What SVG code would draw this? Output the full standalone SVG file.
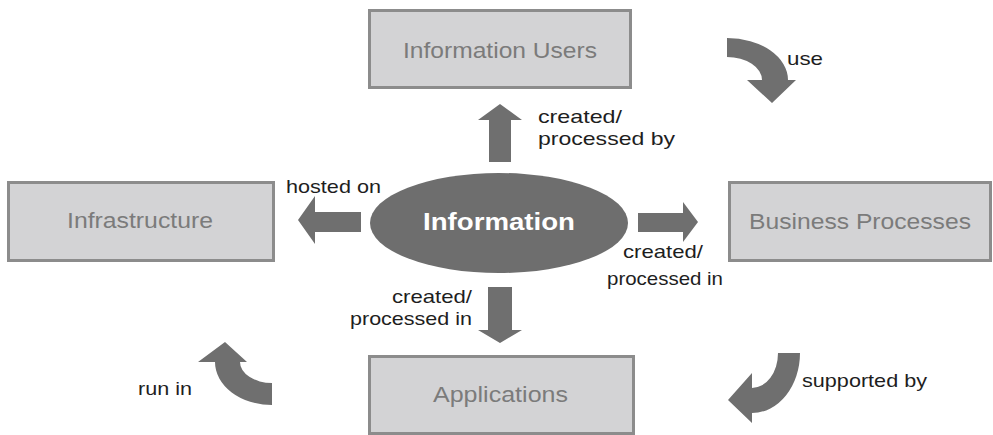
<svg xmlns="http://www.w3.org/2000/svg" width="993" height="435" viewBox="0 0 993 435">
  <style>
    .box { fill: #d3d3d5; stroke: #8c8c8c; stroke-width: 3; }
    .boxtext { font-family: "Liberation Sans", Arial, sans-serif; font-size: 21.5px; fill: #7b7b7b; }
    .arrow { fill: #6f6f6f; }
    .label { font-family: "Liberation Sans", Arial, sans-serif; font-size: 19px; fill: #1e1e1e; }
    .core { fill: #6e6e6e; }
    .coretext { font-family: "Liberation Sans", Arial, sans-serif; font-size: 23px; font-weight: bold; fill: #ffffff; }
  </style>

  <rect width="993" height="435" fill="#ffffff"/>

  <!-- central node -->
  <g id="information">
    <ellipse class="core" cx="499" cy="223" rx="129" ry="50"/>
    <text class="coretext" x="423" y="230" textLength="152" lengthAdjust="spacingAndGlyphs">Information</text>
  </g>

  <!-- surrounding nodes -->
  <g id="information-users">
    <rect class="box" x="369.5" y="10.5" width="261" height="77"/>
    <text class="boxtext" x="403" y="58" textLength="194" lengthAdjust="spacingAndGlyphs">Information Users</text>
  </g>
  <g id="infrastructure">
    <rect class="box" x="8.5" y="182.5" width="265" height="78"/>
    <text class="boxtext" x="67" y="228" textLength="146" lengthAdjust="spacingAndGlyphs">Infrastructure</text>
  </g>
  <g id="business-processes">
    <rect class="box" x="729.5" y="182.5" width="261" height="78"/>
    <text class="boxtext" x="749" y="229" textLength="222" lengthAdjust="spacingAndGlyphs">Business Processes</text>
  </g>
  <g id="applications">
    <rect class="box" x="369.5" y="356.5" width="264" height="77"/>
    <text class="boxtext" x="433" y="402" textLength="135" lengthAdjust="spacingAndGlyphs">Applications</text>
  </g>

  <!-- connectors: block arrows and their labels -->
  <g id="connectors">
    <!-- up to Information Users -->
    <polygon class="arrow" points="489,162 489,120 478,120 500,104 522,120 511,120 511,162"/>
    <text class="label" x="538" y="123" textLength="84" lengthAdjust="spacingAndGlyphs">created/</text>
    <text class="label" x="538" y="145" textLength="137" lengthAdjust="spacingAndGlyphs">processed by</text>

    <!-- left to Infrastructure -->
    <polygon class="arrow" points="361,212 315,212 315,196 298,220 315,244 315,232 361,232"/>
    <text class="label" x="286" y="193" textLength="95" lengthAdjust="spacingAndGlyphs">hosted on</text>

    <!-- right to Business Processes -->
    <polygon class="arrow" points="638,213 683,213 683,202 698,222 683,242 683,232 638,232"/>
    <text class="label" x="623" y="258" textLength="80" lengthAdjust="spacingAndGlyphs">created/</text>
    <text class="label" x="607" y="285" textLength="116" lengthAdjust="spacingAndGlyphs">processed in</text>

    <!-- down to Applications -->
    <polygon class="arrow" points="488,287 512,287 512,330 522,330 500,343 478,330 488,330"/>
    <text class="label" x="392" y="303" textLength="80" lengthAdjust="spacingAndGlyphs">created/</text>
    <text class="label" x="350" y="325" textLength="122" lengthAdjust="spacingAndGlyphs">processed in</text>

    <!-- curved arrow: Information Users to Business Processes -->
    <path class="arrow" d="M727,38 A61,42 0 0 1 788,80 L796,80 L772,103 L747,80 L762,80 A35,23 0 0 0 727,57 Z"/>
    <text class="label" x="787" y="65" textLength="36" lengthAdjust="spacingAndGlyphs">use</text>

    <!-- curved arrow: Business Processes to Applications -->
    <path class="arrow" d="M800,353 A48,60 0 0 1 752,413 L752,423 L728,400 L752,373 L752,388 A26,35 0 0 0 778,353 Z"/>
    <text class="label" x="802" y="387" textLength="125" lengthAdjust="spacingAndGlyphs">supported by</text>

    <!-- curved arrow: Applications to Infrastructure -->
    <path class="arrow" d="M272,405 A57,43 0 0 1 215,362 L198,362 L225,342 L247,362 L240,362 A32,21 0 0 0 272,383 Z"/>
    <text class="label" x="138" y="395" textLength="54" lengthAdjust="spacingAndGlyphs">run in</text>
  </g>
</svg>
